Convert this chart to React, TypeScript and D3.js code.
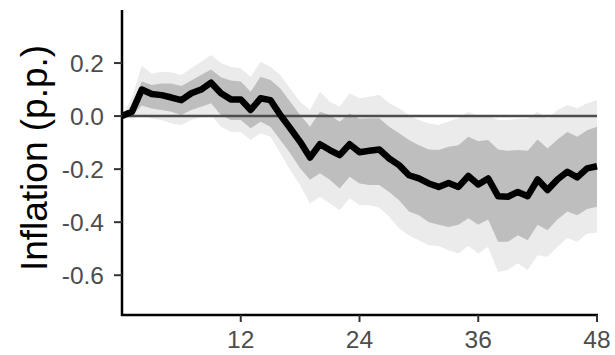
import React from "react"
import * as d3 from "d3"

// impulse response of inflation, horizon in months
const months = d3.range(0, 49)
const response = [
  0, 0.016, 0.1, 0.083, 0.079, 0.07, 0.06, 0.086, 0.1, 0.126, 0.086, 0.063, 0.063,
  0.023, 0.067, 0.06, 0.004, -0.046, -0.097, -0.156, -0.106, -0.128, -0.147, -0.106, -0.136,
  -0.131, -0.126, -0.16, -0.185, -0.223, -0.235, -0.254, -0.267, -0.252, -0.267, -0.226, -0.258,
  -0.235, -0.302, -0.304, -0.286, -0.302, -0.239, -0.279, -0.239, -0.21, -0.231, -0.197, -0.189
]
const upper68 = [
  0, 0.04, 0.13, 0.117, 0.123, 0.123, 0.113, 0.134, 0.155, 0.176, 0.146, 0.134, 0.13,
  0.092, 0.148, 0.136, 0.104, 0.054, 0.004, -0.04, 0.016, 0.004, -0.021, 0.01, -0.01,
  -0.008, -0.008, -0.04, -0.065, -0.09, -0.11, -0.126, -0.128, -0.116, -0.11, -0.078, -0.095,
  -0.09, -0.126, -0.131, -0.128, -0.131, -0.088, -0.122, -0.088, -0.06, -0.078, -0.053, -0.04
]
const lower68 = [
  0, 0, 0.04, 0.029, 0.023, 0.016, 0.004, 0.023, 0.035, 0.048, 0.004, -0.015, -0.015,
  -0.046, -0.021, -0.04, -0.09, -0.14, -0.197, -0.24, -0.216, -0.24, -0.273, -0.229, -0.254,
  -0.26, -0.26, -0.286, -0.317, -0.36, -0.374, -0.4, -0.41, -0.418, -0.41, -0.385, -0.41,
  -0.39, -0.474, -0.474, -0.449, -0.468, -0.41, -0.43, -0.39, -0.36, -0.374, -0.35, -0.342
]
const upper90 = [
  0, 0.07, 0.19, 0.16, 0.167, 0.165, 0.155, 0.18, 0.205, 0.23, 0.2, 0.186, 0.18,
  0.148, 0.205, 0.186, 0.155, 0.104, 0.054, 0.023, 0.092, 0.054, 0.035, 0.086, 0.067,
  0.073, 0.08, 0.048, 0.03, 0.004, -0.015, -0.028, -0.034, -0.02, -0.008, 0.016, 0,
  0.004, -0.015, -0.015, -0.01, -0.008, 0.016, -0.01, 0.023, 0.042, 0.03, 0.048, 0.06
]
const lower90 = [
  0, -0.01, 0.004, -0.009, -0.015, -0.028, -0.034, -0.015, -0.003, 0.004, -0.04, -0.059, -0.06,
  -0.09, -0.065, -0.078, -0.14, -0.204, -0.26, -0.33, -0.304, -0.33, -0.355, -0.31, -0.335,
  -0.336, -0.345, -0.38, -0.423, -0.45, -0.468, -0.487, -0.49, -0.506, -0.518, -0.49, -0.518,
  -0.493, -0.588, -0.58, -0.555, -0.58, -0.525, -0.53, -0.493, -0.46, -0.474, -0.443, -0.44
]
const xTicks = [12, 24, 36, 48]
const yTicks = [0.2, 0, -0.2, -0.4, -0.6]
const yTitle = "Inflation (p.p.)"

const W = 615, H = 355
const margin = {top: 10, right: 18, bottom: 40, left: 122}

export default function App() {
  const x = d3.scaleLinear().domain([0, 48]).range([margin.left, W - margin.right])
  const y = d3.scaleLinear().domain([-0.75, 0.4]).range([H - margin.bottom, margin.top])

  const band = (lo: number[], hi: number[]) =>
    d3.area<number>()
      .x(d => x(d))
      .y0((d, i) => y(lo[i]))
      .y1((d, i) => y(hi[i]))(months) || ""

  const line = d3.line<number>()
    .x(d => x(d))
    .y((d, i) => y(response[i]))(months) || ""

  const font = "'Liberation Sans', Arial, sans-serif"
  const x0 = margin.left, yb = H - margin.bottom

  return (
    <svg width={W} height={H} style={{position: "absolute", left: 0, top: 0, background: "#fff"}}>
      <path d={band(lower90, upper90)} fill="#ebebeb" />
      <path d={band(lower68, upper68)} fill="#bebebe" />
      <line x1={x(0)} x2={x(48)} y1={y(0)} y2={y(0)} stroke="#4d4d4d" strokeWidth={2.5} />
      <path d={line} fill="none" stroke="#000" strokeWidth={6.5} strokeLinejoin="round" />

      {/* axes */}
      <line x1={x0} x2={x0} y1={margin.top} y2={yb + 1} stroke="#000" strokeWidth={2.5} />
      <line x1={x0 - 1} x2={x(48) + 1} y1={yb} y2={yb} stroke="#000" strokeWidth={2.5} />

      {yTicks.map(t => (
        <g key={t}>
          <line x1={x0 - 8} x2={x0} y1={y(t)} y2={y(t)} stroke="#333" strokeWidth={2} />
          <text x={x0 - 18} y={y(t)} dy="0.36em" textAnchor="end" fontSize={24.5}
            fontFamily={font} fill="#4d4d4d">{d3.format(".1f")(t).replace("−", "-")}</text>
        </g>
      ))}
      {xTicks.map(t => (
        <g key={t}>
          <line x1={x(t)} x2={x(t)} y1={yb} y2={yb + 7} stroke="#333" strokeWidth={2} />
          <text x={x(t)} y={yb + 33} textAnchor="middle" fontSize={24.5}
            fontFamily={font} fill="#4d4d4d">{t}</text>
        </g>
      ))}

      <text transform={`translate(47,158) rotate(-90)`} textAnchor="middle"
        fontSize={37} fontFamily={font} fill="#000">{yTitle}</text>
    </svg>
  )
}
